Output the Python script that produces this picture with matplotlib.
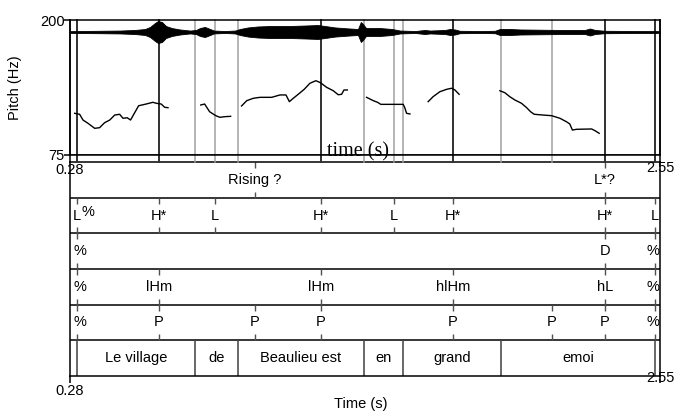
import matplotlib
matplotlib.use("Agg")
import matplotlib.pyplot as plt
import numpy as np

plt.rcParams['font.family'] = ['Liberation Sans', 'DejaVu Sans']

# ---------------- data ----------------
t_min, t_max = 0.28, 2.55
pitch_min, pitch_max = 75, 200
t_start, t_end = 0.307, 2.530

# pitch contour segments (time s, Hz)
seg1_t = [0.298, 0.317, 0.330, 0.349, 0.375, 0.394, 0.413, 0.433, 0.452, 0.471, 0.484,
          0.500, 0.513, 0.529, 0.544, 0.573, 0.599, 0.612, 0.631, 0.644, 0.657]
seg1_f = [113.6, 112.7, 107.4, 104.4, 99.7, 100.3, 104.9, 107.4, 112.0, 112.7, 109.0,
          109.5, 107.4, 114.2, 120.6, 122.2, 123.8, 122.9, 122.2, 119.2, 118.8]
seg2_t = [0.783, 0.798, 0.817, 0.837, 0.844, 0.857, 0.876, 0.898]
seg2_f = [121.3, 122.2, 115.1, 112.0, 111.1, 109.9, 110.5, 110.8]
seg3_t = [0.940, 0.960, 0.985, 1.011, 1.056, 1.088, 1.111, 1.124, 1.139, 1.158, 1.181,
          1.203, 1.226, 1.244, 1.267, 1.293, 1.312, 1.325, 1.334, 1.347]
seg3_f = [120.4, 125.3, 127.5, 128.4, 128.4, 130.6, 130.6, 124.4, 127.5, 131.2, 135.8,
          141.4, 143.8, 141.9, 137.7, 134.5, 130.8, 131.2, 135.2, 135.2]
seg4_t = [1.421, 1.447, 1.463, 1.476, 1.504, 1.562, 1.568, 1.575, 1.588]
seg4_f = [128.4, 125.3, 123.8, 121.9, 121.9, 121.9, 118.8, 113.6, 113.0]
seg5_t = [1.658, 1.677, 1.703, 1.729, 1.748, 1.761, 1.777]
seg5_f = [124.4, 129.0, 133.6, 135.8, 136.8, 135.2, 131.2]
seg6_t = [1.934, 1.953, 1.972, 1.992, 2.017, 2.037, 2.052, 2.066, 2.100, 2.133, 2.165,
          2.190, 2.203, 2.213, 2.229, 2.287, 2.300, 2.316]
seg6_f = [134.5, 132.7, 129.0, 125.9, 122.9, 118.8, 115.1, 112.7, 112.0, 111.4, 109.0,
          105.8, 103.7, 98.1, 98.8, 99.1, 97.5, 95.1]
pitch_segments = [(seg1_t, seg1_f), (seg2_t, seg2_f), (seg3_t, seg3_f),
                  (seg4_t, seg4_f), (seg5_t, seg5_f), (seg6_t, seg6_f)]

# waveform envelope (time s, relative amplitude)
wave_t = [0.280, 0.307, 0.395, 0.472, 0.530, 0.569, 0.588, 0.607, 0.619, 0.634, 0.649,
          0.672, 0.703, 0.742, 0.765, 0.780, 0.799, 0.819, 0.834, 0.876, 0.915, 0.934,
          0.965, 1.003, 1.050, 1.127, 1.184, 1.234, 1.261, 1.300, 1.357, 1.388, 1.399,
          1.407, 1.419, 1.473, 1.519, 1.550, 1.608, 1.646, 1.665, 1.723, 1.742, 1.761,
          1.780, 1.857, 1.915, 1.934, 1.973, 2.011, 2.165, 2.261, 2.281, 2.300, 2.338,
          2.473, 2.530, 2.550]
wave_amp = [0.07, 0.08, 0.10, 0.12, 0.17, 0.25, 0.42, 0.75, 0.92, 0.83, 0.50,
            0.33, 0.21, 0.12, 0.17, 0.33, 0.42, 0.25, 0.12, 0.08, 0.12, 0.25,
            0.38, 0.46, 0.50, 0.50, 0.54, 0.58, 0.50, 0.38, 0.29, 0.25, 0.83,
            0.67, 0.33, 0.33, 0.25, 0.12, 0.08, 0.17, 0.12, 0.17, 0.25, 0.21,
            0.10, 0.08, 0.10, 0.25, 0.25, 0.21, 0.17, 0.17, 0.29, 0.17, 0.10,
            0.08, 0.08, 0.07]

# words (interval tier)
word_bounds = [0.307, 0.761, 0.926, 1.411, 1.561, 1.938, 2.530]
words = ["Le village", "de", "Beaulieu est", "en", "grand", "emoi"]

# point tiers
tier1_t = [0.992, 2.338]
tier1_l = ["Rising ?", "L*?"]
tier2_t = [0.622, 0.838, 1.245, 1.526, 1.753, 2.338, 2.530]
tier2_l = ["H*", "L", "H*", "L", "H*", "H*", "L"]
tier3_t = [0.307, 2.338, 2.530]
tier3_l = ["%", "D", "%"]
tier4_t = [0.307, 0.622, 1.245, 1.753, 2.338, 2.530]
tier4_l = ["%", "lHm", "lHm", "hlHm", "hL", "%"]
tier5_t = [0.307, 0.622, 0.992, 1.245, 1.753, 2.134, 2.338, 2.530]
tier5_l = ["%", "P", "P", "P", "P", "P", "P", "%"]
point_tiers = [(tier1_t, tier1_l), (tier2_t, tier2_l), (tier3_t, tier3_l),
               (tier4_t, tier4_l), (tier5_t, tier5_l)]

# lines through the pitch panel
marks_dark = [0.307, 0.622, 1.245, 1.753, 2.338, 2.530]
marks_light = [0.761, 0.838, 0.926, 1.411, 1.526, 1.561, 1.938, 2.134]

# ---------------- layout ----------------
W, H = 675, 412
fig = plt.figure(figsize=(W / 100, H / 100), dpi=100)
FS = 10.5
LW = 1.1


def rect(x0, y0, x1, y1):
    return [x0 / W, 1 - y1 / H, (x1 - x0) / W, (y1 - y0) / H]


ax_t = fig.add_axes(rect(70, 162, 660, 376))
ax_p = fig.add_axes(rect(70, 20, 660, 155))
ax_w = fig.add_axes(rect(70, 20, 660, 44))
for a in (ax_t, ax_p, ax_w):
    a.patch.set_visible(False)

# pitch axes
ax_p.set_xlim(t_min, t_max)
ax_p.set_ylim(pitch_min, pitch_max)
for s in ax_p.spines.values():
    s.set_linewidth(LW)
ax_p.set_xticks([])
ax_p.set_yticks([pitch_min, pitch_max])
ax_p.set_yticklabels([str(pitch_min), str(pitch_max)])
ax_p.tick_params(axis='y', length=4, width=LW, pad=0, labelsize=FS)

gap = -7 / 135
for t in marks_light:
    ax_p.axvline(t, ymin=gap, ymax=1, color='#a0a0a0', lw=1.1, clip_on=False, zorder=1)
for t in marks_dark:
    ax_p.axvline(t, ymin=gap, ymax=1, color='#303030', lw=1.4, clip_on=False, zorder=1)
for t in (t_min, t_max):
    ax_p.axvline(t, ymin=gap, ymax=1, color='black', lw=LW, clip_on=False, zorder=3)
ax_p.axhline(pitch_min, color='black', lw=LW)

for ts, fs in pitch_segments:
    ax_p.plot(ts, fs, color='black', lw=1.0, zorder=4)

ax_p.text(t_min, -15 / 135, "0.28", transform=ax_p.get_xaxis_transform(),
          ha='center', va='center', fontsize=FS, zorder=6)
ax_p.text(t_max, -13 / 135, "2.55", transform=ax_p.get_xaxis_transform(),
          ha='center', va='center', fontsize=FS, zorder=6)
ax_p.text(0.488, -1.5 / 135, "time (s)", transform=ax_p.transAxes, ha='center',
          va='baseline', fontsize=14.5, family=['Liberation Serif', 'DejaVu Serif'])

fig.text(15 / W, 1 - 88 / H, "Pitch (Hz)", rotation=90, ha='center', va='center',
         fontsize=FS)

# waveform
ax_w.set_xlim(t_min, t_max)
ax_w.set_ylim(-1, 1)
ax_w.axis('off')
wa = np.array(wave_amp)
ax_w.fill_between(wave_t, -wa, wa, color='black', lw=0.6, edgecolor='black')

# tier axes
ax_t.set_xlim(t_min, t_max)
ax_t.set_ylim(6, 0)
for s in ax_t.spines.values():
    s.set_linewidth(LW)
ax_t.set_yticks([])
ax_t.set_xticks([t_min, t_max])
ax_t.set_xticklabels(["", ""])
ax_t.tick_params(axis='x', length=5, width=LW)
for k in range(1, 6):
    ax_t.axhline(k, color='black', lw=LW)

tick = 0.17
for i, (ts, ls) in enumerate(point_tiers):
    ax_t.vlines(ts, i, i + tick, color='#505050', lw=1.0)
    ax_t.vlines(ts, i + 1 - tick, i + 1, color='#505050', lw=1.0)
    for t, lab in zip(ts, ls):
        dx = 0
        if lab == "%" and t == t_start:
            dx = 2.5
        if lab == "%" and t == t_end:
            dx = -2
        ax_t.annotate(lab, (t, i + 0.5), xytext=(dx * 0.72, 0), textcoords='offset points',
                      ha='center', va='center', fontsize=FS)

# L% on tier 2 at the start
ax_t.vlines([t_start], 1, 1 + tick, color='#505050', lw=1.0)
ax_t.vlines([t_start], 2 - tick, 2, color='#505050', lw=1.0)
ax_t.annotate("L", (t_start, 1.5), ha='center', va='center', fontsize=FS)
ax_t.annotate("%", (t_start, 1.5), xytext=(3.0, 2.3), textcoords='offset points',
              ha='left', va='center', fontsize=FS)

# words tier
ax_t.vlines(word_bounds, 5, 6, color='#404040', lw=1.1)
for a, b, w in zip(word_bounds[:-1], word_bounds[1:], words):
    ax_t.text((a + b) / 2, 5.5, w, ha='center', va='center', fontsize=FS)

ax_t.text(t_min, -15 / 214, "0.28", transform=ax_t.get_xaxis_transform(),
          ha='center', va='center', fontsize=FS)
ax_t.text(t_max, -2 / 214, "2.55", transform=ax_t.get_xaxis_transform(),
          ha='center', va='center', fontsize=FS)
ax_t.text(0.493, -28 / 214, "Time (s)", transform=ax_t.transAxes,
          ha='center', va='center', fontsize=FS)

fig.savefig("out.png", dpi=100)
